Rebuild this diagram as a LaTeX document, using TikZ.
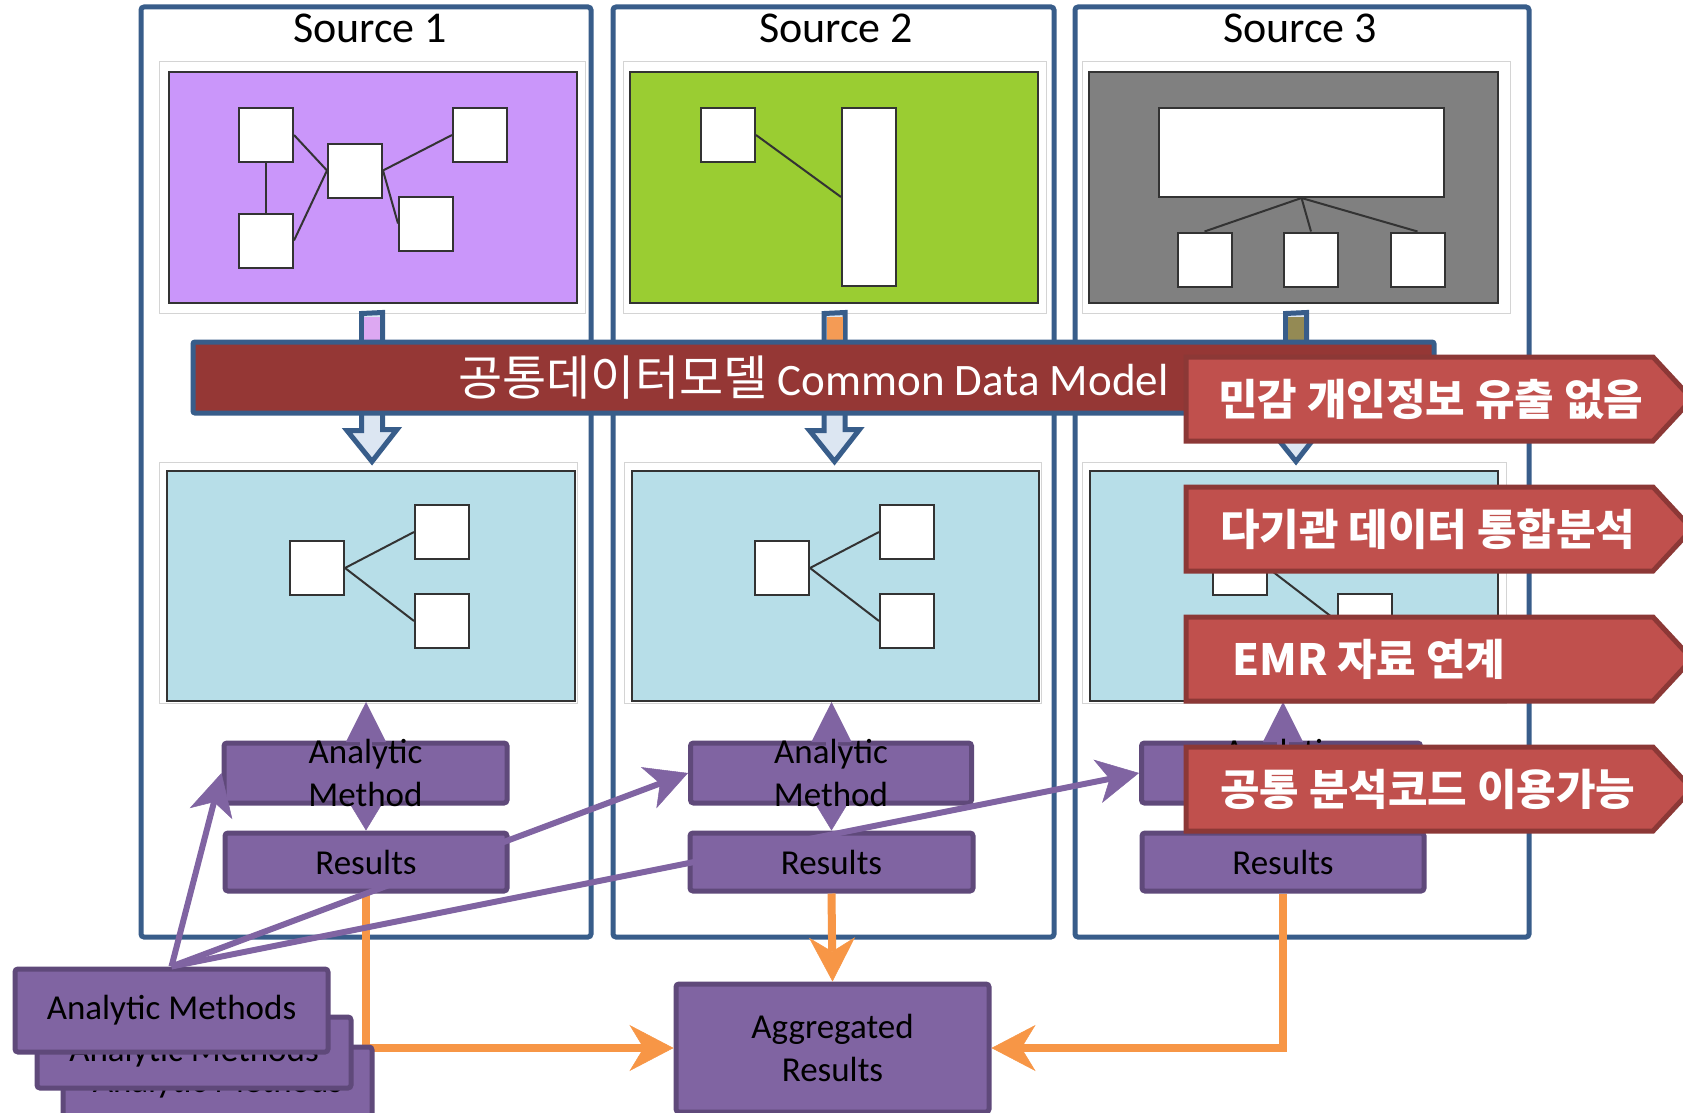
\documentclass[tikz,border=0pt]{standalone}
\usepackage{fontspec}
\setmainfont{Carlito}
\newfontfamily\kor{Noto Sans CJK KR}
\usetikzlibrary{arrows.meta}

\definecolor{srcedge}{HTML}{385D8A}
\definecolor{framegray}{HTML}{D4D4D4}
\definecolor{violetdb}{HTML}{CA96FA}
\definecolor{greendb}{HTML}{9ACD32}
\definecolor{graydb}{HTML}{808080}
\definecolor{cdmcyan}{HTML}{B7DEE8}
\definecolor{cdmred}{HTML}{953735}
\definecolor{noteface}{HTML}{C0504D}
\definecolor{noteedge}{HTML}{8C3836}
\definecolor{flowblue}{HTML}{DCE6F2}
\definecolor{stubviolet}{HTML}{DDA8F2}
\definecolor{stuborange}{HTML}{F49B55}
\definecolor{stubolive}{HTML}{948A54}
\definecolor{methface}{HTML}{8064A2}
\definecolor{methedge}{HTML}{5F497A}
\definecolor{resorange}{HTML}{F79646}

\tikzset{
  srcbox/.style={draw=srcedge, line width=5pt, rounded corners=3pt, inner sep=0pt},
  srctitle/.style={anchor=base, inner sep=0pt, font=\fontsize{44}{50}\selectfont},
  picframe/.style={draw=framegray, line width=1pt, fill=white, inner sep=0pt},
  dbpanel/.style={draw=black!80, line width=2pt, inner sep=0pt},
  sq/.style={draw=black!80, line width=2pt, fill=white, inner sep=0pt, minimum width=54pt, minimum height=54pt},
  link/.style={draw=black!80, line width=2pt},
  cdmflow/.style={draw=srcedge, line width=5pt, fill=flowblue, line join=miter},
  cdmbanner/.style={draw=srcedge, fill=cdmred, line width=5pt, rounded corners=2pt, inner sep=0pt, text=white, font=\fontsize{45}{50}\selectfont},
  methbox/.style={draw=methedge, fill=methface, line width=5pt, rounded corners=3pt, inner sep=0pt, font=\fontsize{35}{43}\selectfont, align=center},
  methtext/.style={inner sep=0pt, font=\fontsize{35}{43}\selectfont, align=center},
  runarrow/.style={draw=methface, line width=12pt, {Triangle[length=33pt,width=40pt,line width=0.5pt]}-{Triangle[length=40pt,width=40pt,line width=0.5pt]}},
  feed/.style={draw=methface, line width=6pt, -{Stealth[length=42pt,width=44pt,inset=12pt,line width=0.5pt]}},
  merge/.style={draw=resorange, line width=8pt, -{Stealth[length=44pt,width=46pt,inset=14pt,line width=0.5pt]}},
  note/.style={draw=noteedge, fill=noteface, line width=5pt, line join=miter},
  notetext/.style={anchor=west, inner sep=0pt, text=white, font=\kor\bfseries\fontsize{43}{48}\selectfont},
}

\begin{document}
\begin{tikzpicture}[x=1pt, y=-1pt]
\useasboundingbox (0,0) rectangle (1683,1113);%
\clip (0,0) rectangle (1683,1113);%
\fill[white] (0,0) rectangle (1683,1113);%

% Drawing source frames
\node[srcbox, minimum width=450pt, minimum height=930pt] (src1) at (366,472) {};%
\node[srcbox, minimum width=441pt, minimum height=930pt] (src2) at (833.5,472) {};%
\node[srcbox, minimum width=454pt, minimum height=930pt] (src3) at (1302,472) {};%
\node[srctitle] (title1) at (370,43) {Source 1};%
\node[srctitle] (title2) at (836,43) {Source 2};%
\node[srctitle] (title3) at (1300,43) {Source 3};%

% Drawing source database 1
\node[picframe, minimum width=426pt, minimum height=251pt] (tf1) at (372,187.5) {};%
\node[dbpanel, fill=violetdb, minimum width=408pt, minimum height=231pt] (top1) at (373,187.5) {};%
\node[sq] (a1) at (266,135) {};%
\node[sq] (b1) at (266,240.5) {};%
\node[sq] (c1) at (355,170.5) {};%
\node[sq] (d1) at (480,135) {};%
\node[sq] (e1) at (426,223.5) {};%
\draw[link] (a1.east) -- (c1.west);%
\draw[link] (b1.east) -- (c1.west);%
\draw[link] (a1.south) -- (b1.north);%
\draw[link] (c1.east) -- (d1.west);%
\draw[link] (c1.east) -- (e1.west);%

% Drawing source database 2
\node[picframe, minimum width=423pt, minimum height=251pt] (tf2) at (834.5,187.5) {};%
\node[dbpanel, fill=greendb, minimum width=408pt, minimum height=231pt] (top2) at (834,187.5) {};%
\node[sq] (a2) at (728,135) {};%
\node[sq, minimum height=178pt] (b2) at (869,197) {};%
\draw[link] (a2.east) -- (b2.west);%

% Drawing source database 3
\node[picframe, minimum width=428pt, minimum height=251pt] (tf3) at (1296,187.5) {};%
\node[dbpanel, fill=graydb, minimum width=409pt, minimum height=231pt] (top3) at (1293.5,187.5) {};%
\node[sq, minimum width=285pt, minimum height=89pt] (a3) at (1301.5,152.5) {};%
\node[sq] (b3) at (1204.5,259.5) {};%
\node[sq] (c3) at (1311,259.5) {};%
\node[sq] (d3) at (1417.5,259.5) {};%
\draw[link] (a3.south) -- (b3.north);%
\draw[link] (a3.south) -- (c3.north);%
\draw[link] (a3.south) -- (d3.north);%

% Drawing common data model panels
\node[picframe, minimum width=418pt, minimum height=241pt] (mf1) at (368,582.5) {};%
\node[dbpanel, fill=cdmcyan, minimum width=408pt, minimum height=230pt] (mid1) at (371,586) {};%
\node[sq] (p1) at (317,568) {};%
\node[sq] (q1) at (442,532) {};%
\node[sq] (r1) at (442,621) {};%
\draw[link] (p1.east) -- (q1.west);%
\draw[link] (p1.east) -- (r1.west);%
\node[picframe, minimum width=417pt, minimum height=241pt] (mf2) at (832.5,582.5) {};%
\node[dbpanel, fill=cdmcyan, minimum width=407pt, minimum height=230pt] (mid2) at (835.5,586) {};%
\node[sq] (p2) at (782,568) {};%
\node[sq] (q2) at (907,532) {};%
\node[sq] (r2) at (907,621) {};%
\draw[link] (p2.east) -- (q2.west);%
\draw[link] (p2.east) -- (r2.west);%
\node[picframe, minimum width=424pt, minimum height=241pt] (mf3) at (1294,582.5) {};%
\node[dbpanel, fill=cdmcyan, minimum width=408pt, minimum height=230pt] (mid3) at (1294,586) {};%
\node[sq] (p3) at (1240,568) {};%
\node[sq] (q3) at (1365,532) {};%
\node[sq] (r3) at (1365,621) {};%
\draw[link] (p3.east) -- (q3.west);%
\draw[link] (p3.east) -- (r3.west);%

% Drawing conversion arrows
\draw[cdmflow] ([xshift=-10.5pt]tf1.south) -- ++(0,117) -- ++(-14.5,0) -- (tf1.south |- mf1.north) -- ++(25,-32) -- ++(-14.5,0) -- ++(0,-117) -- cycle;%
\fill[stubviolet] ([xshift=-8pt,yshift=-3pt]tf1.south) rectangle ++(16,27);%
\draw[cdmflow] ([xshift=-10.5pt]tf2.south) -- ++(0,117) -- ++(-14.5,0) -- (tf2.south |- mf2.north) -- ++(25,-32) -- ++(-14.5,0) -- ++(0,-117) -- cycle;%
\fill[stuborange] ([xshift=-8pt,yshift=-3pt]tf2.south) rectangle ++(16,27);%
\draw[cdmflow] ([xshift=-10.5pt]tf3.south) -- ++(0,117) -- ++(-14.5,0) -- (tf3.south |- mf3.north) -- ++(25,-32) -- ++(-14.5,0) -- ++(0,-117) -- cycle;%
\fill[stubolive] ([xshift=-8pt,yshift=-3pt]tf3.south) rectangle ++(16,27);%

% Drawing common data model banner
\node[cdmbanner, minimum width=1241pt, minimum height=71pt] (cdm) at (813.5,377.5) {{\kor\fontsize{48}{50}\selectfont 공통데이터모델} Common Data Model};%

% Drawing analytic method and results boxes
\node[methbox, minimum width=283pt, minimum height=60pt] (am1) at (365.5,773) {};%
\node[methbox, minimum width=282pt, minimum height=58pt] (res1) at (366,862) {Results};%
\draw[runarrow] (res1.north) -- (res1.north |- mid1.south);%
\node[methtext] (amtext1) at (am1) {Analytic\\Method};%
\node[methbox, minimum width=281pt, minimum height=60pt] (am2) at (831,773) {};%
\node[methbox, minimum width=283pt, minimum height=58pt] (res2) at (831.5,862) {Results};%
\draw[runarrow] (res2.north) -- (res2.north |- mid2.south);%
\node[methtext] (amtext2) at (am2) {Analytic\\Method};%
\node[methbox, minimum width=279pt, minimum height=60pt] (am3) at (1281,773) {};%
\node[methbox, minimum width=282pt, minimum height=58pt] (res3) at (1283,862) {Results};%
\draw[runarrow] (res3.north) -- (res3.north |- mid3.south);%
\node[methtext] (amtext3) at (am3) {Analytic\\Method};%

% Drawing aggregated results
\node[methbox, minimum width=313pt, minimum height=128pt] (agg) at (832.5,1048) {Aggregated\\Results};%
\draw[merge] (res1.south) |- (agg.west);%
\draw[merge] (res2.south) -- (agg.north);%
\draw[merge] (res3.south) |- (agg.east);%

% Drawing analytic methods stack
\node[methbox, minimum width=309pt, minimum height=72pt] (ams3) at (217.5,1083) {Analytic Methods};%
\node[methbox, minimum width=314pt, minimum height=71pt] (ams2) at (194,1052.5) {Analytic Methods};%
\node[methbox, minimum width=313pt, minimum height=83pt] (ams1) at (171.5,1010.5) {Analytic Methods};%
\draw[feed] (ams1.north) -- (am1.west);%
\draw[feed] (ams1.north) -- (am2.west);%
\draw[feed] (ams1.north) -- (am3.west);%

% Drawing callouts
\draw[note] (1186,357) -- (1653,357) -- (1692,399) -- (1653,441) -- (1186,441) -- cycle;%
\node[notetext] (note1) at (1218,399) {민감 개인정보 유출 없음};%
\draw[note] (1186,487) -- (1653,487) -- (1692,529) -- (1653,571) -- (1186,571) -- cycle;%
\node[notetext] (note2) at (1220,529) {다기관 데이터 통합분석};%
\draw[note] (1186,617) -- (1653,617) -- (1692,659) -- (1653,701) -- (1186,701) -- cycle;%
\node[notetext] (note3) at (1232,659) {EMR 자료 연계};%
\draw[note] (1186,747) -- (1653,747) -- (1692,789) -- (1653,831) -- (1186,831) -- cycle;%
\node[notetext] (note4) at (1220,789) {공통 분석코드 이용가능};%
\end{tikzpicture}
\end{document}
